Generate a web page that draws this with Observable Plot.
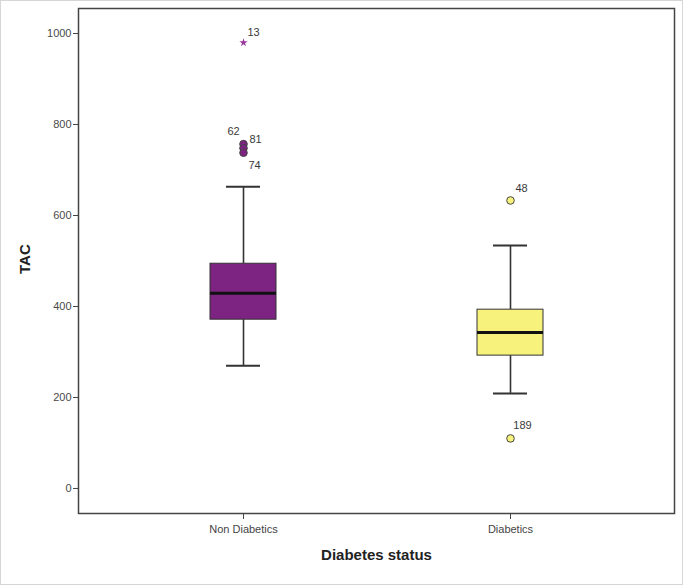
<!DOCTYPE html>
<html>
<head>
<meta charset="utf-8">
<script src="https://cdn.jsdelivr.net/npm/d3@7"></script>
<script src="https://cdn.jsdelivr.net/npm/@observablehq/plot@0.6"></script>
<style>
  body { margin: 0; background: #fff; }
  #chart svg { display: block; outline: 1px solid #d6d6d6; outline-offset: -1px; }
</style>
</head>
<body>
<div id="chart"></div>
<script>
// ---- data ----
const groups = ["Non Diabetics", "Diabetics"];
const whiskerLow = [270, 209];
const q1 = [371, 292];
const median = [429, 343];
const q3 = [494, 393];
const whiskerHigh = [663, 534];

const outlierGroup = ["Non Diabetics", "Non Diabetics", "Non Diabetics", "Non Diabetics", "Diabetics", "Diabetics"];
const outlierValue = [980, 757, 748, 738, 633, 110];
const outlierId = ["13", "62", "81", "74", "48", "189"];
const outlierKind = ["extreme", "outlier", "outlier", "outlier", "outlier", "outlier"];

const groupColors = ["#7d2482", "#f7f27b"];
const yTicks = [0, 200, 400, 600, 800, 1000];

// ---- tables ----
const stats = groups.map((g, i) => ({
  group: g, lo: whiskerLow[i], q1: q1[i], median: median[i], q3: q3[i], hi: whiskerHigh[i]
}));
const outliers = outlierId.map((id, i) => ({
  id, group: outlierGroup[i], value: outlierValue[i], kind: outlierKind[i]
}));

// label placement (style, not data)
const labelOffset = {
  "13": [10, -10], "62": [-10, -13], "81": [12, -9],
  "74": [11, 13], "48": [11, -12], "189": [12, -13]
};

const font = "Liberation Sans, Arial, sans-serif";

const chart = Plot.plot({
  width: 683,
  height: 585,
  marginLeft: 78,
  marginRight: 9,
  marginTop: 8,
  marginBottom: 72,
  style: { fontFamily: font, background: "#fff", color: "#444" },
  x: { type: "band", domain: groups, paddingInner: 0.754, paddingOuter: 0.489, label: null },
  y: { domain: [-55, 1055], label: null },
  color: { domain: groups, range: groupColors },
  marks: [
    Plot.frame({ stroke: "#444", strokeWidth: 1.5 }),
    Plot.axisY({ ticks: yTicks, tickFormat: "d", tickSize: 5, tickPadding: 2, fontSize: 11, fill: "#4a4a4a", stroke: "#444", label: null }),
    Plot.axisX({ tickSize: 6, tickPadding: 6, fontSize: 11, fill: "#444", stroke: "#444", label: null }),
    // whiskers
    Plot.ruleX(stats, { x: "group", y1: "q3", y2: "hi", stroke: "#333", strokeWidth: 1.6 }),
    Plot.ruleX(stats, { x: "group", y1: "lo", y2: "q1", stroke: "#333", strokeWidth: 1.6 }),
    Plot.tickY(stats, { x: "group", y: "hi", stroke: "#333", strokeWidth: 2, insetLeft: 16, insetRight: 16 }),
    Plot.tickY(stats, { x: "group", y: "lo", stroke: "#333", strokeWidth: 2, insetLeft: 16, insetRight: 16 }),
    // boxes
    Plot.barY(stats, { x: "group", y1: "q1", y2: "q3", fill: "group", stroke: "#333", strokeWidth: 1 }),
    Plot.tickY(stats, { x: "group", y: "median", stroke: "#111", strokeWidth: 3 }),
    // outliers
    Plot.dot(outliers.filter(d => d.kind === "outlier"), {
      x: "group", y: "value", r: 3.8, fill: "group", stroke: "#444", strokeWidth: 1
    }),
    Plot.dot(outliers.filter(d => d.kind === "extreme"), {
      x: "group", y: "value", r: 2.6, symbol: "star", fill: "#9a3a9e", stroke: "none"
    }),
    ...outliers.map(o => Plot.text([o], {
      x: "group", y: "value", text: "id",
      dx: labelOffset[o.id][0], dy: labelOffset[o.id][1],
      fontSize: 11, fill: "#3a3a3a"
    })),
    // axis titles
    Plot.text(["TAC"], {
      frameAnchor: "left", dx: -53, dy: 13, rotate: -90, fontSize: 15, fontWeight: "bold", fill: "#222"
    }),
    Plot.text(["Diabetes status"], {
      frameAnchor: "bottom", dy: 46, fontSize: 15, fontWeight: "bold", fill: "#222"
    })
  ]
});

document.getElementById("chart").appendChild(chart);
</script>
</body>
</html>
